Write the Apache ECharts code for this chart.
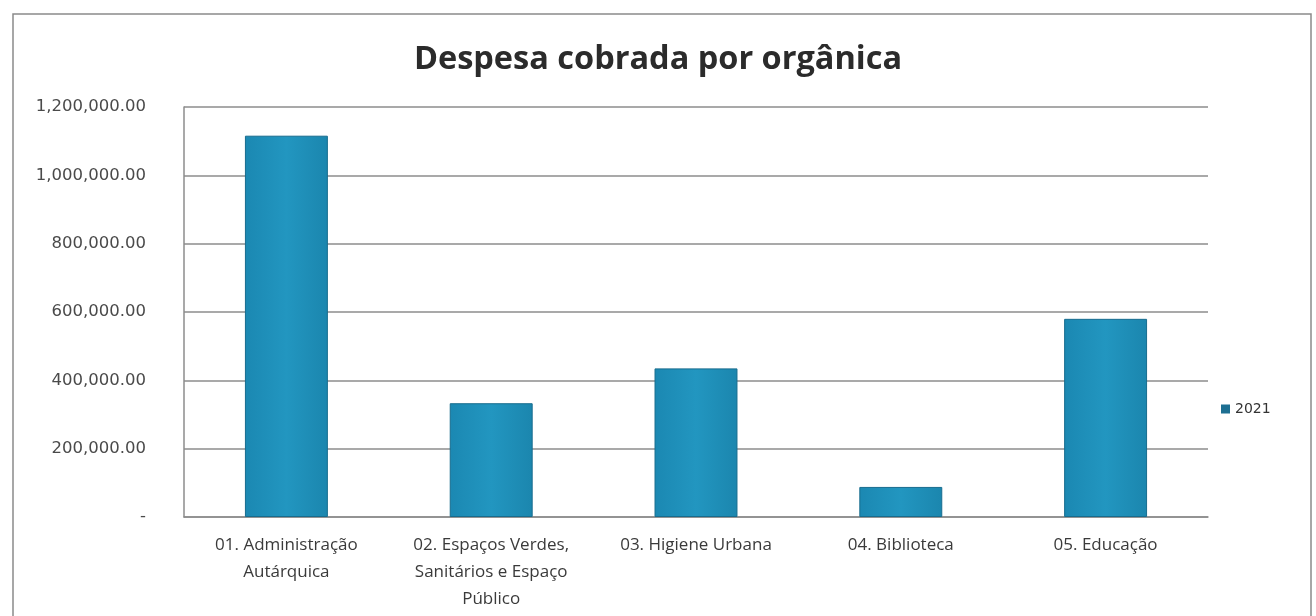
<!DOCTYPE html>
<html>
<head>
<meta charset="utf-8">
<script src="https://cdn.jsdelivr.net/npm/echarts@6/dist/echarts.min.js"></script>
<style>
html,body{margin:0;padding:0;background:#fff;}
#chart{width:1316px;height:616px;}
</style>
</head>
<body>
<div id="chart"></div>
<script>
const titleText = 'Despesa cobrada por orgânica';
const categories = [
  '01. Administração\nAutárquica',
  '02. Espaços Verdes,\nSanitários e Espaço\nPúblico',
  '03. Higiene Urbana',
  '04. Biblioteca',
  '05. Educação'
];
const seriesName = '2021';
const values2021 = [1116000, 333000, 435000, 88000, 580000];
const yMin = 0, yMax = 1200000, yStep = 200000;

const chart = echarts.init(document.getElementById('chart'));
chart.setOption({
  backgroundColor: '#ffffff',
  animation: false,
  graphic: [{
    type: 'rect',
    shape: {x: 13, y: 14, width: 1298, height: 620},
    style: {fill: 'none', stroke: '#8a8a8a', lineWidth: 1.5},
    silent: true
  }],
  title: {
    text: titleText,
    left: 'center',
    top: 38,
    textStyle: {fontFamily: 'Open Sans', fontWeight: 'bold', fontSize: 32.5, color: '#2b2b2b'}
  },
  legend: {
    data: [seriesName],
    orient: 'vertical',
    left: 1216,
    top: 397,
    icon: 'rect',
    itemWidth: 9,
    itemHeight: 9,
    itemGap: 6,
    itemStyle: {color: '#1d6f92', borderWidth: 0},
    textStyle: {fontFamily: 'DejaVu Sans', fontSize: 14, color: '#333'}
  },
  grid: {left: 184, right: 108, top: 107, bottom: 99, containLabel: false},
  xAxis: {
    type: 'category',
    data: categories,
    axisLine: {show: true, lineStyle: {color: '#8c8c8c', width: 1.5}},
    axisTick: {show: false},
    axisLabel: {
      interval: 0,
      margin: 15,
      fontFamily: 'Open Sans',
      fontSize: 17,
      lineHeight: 27,
      color: '#3a3a3a',
      align: 'center'
    }
  },
  yAxis: {
    type: 'value',
    min: yMin,
    max: yMax,
    interval: yStep,
    axisLine: {show: true, lineStyle: {color: '#8c8c8c', width: 1.5}},
    axisTick: {show: false},
    splitLine: {show: true, lineStyle: {color: '#8c8c8c', width: 1.5}},
    axisLabel: {
      margin: 38,
      fontFamily: 'DejaVu Sans',
      fontSize: 16.5,
      color: '#4a4a4a',
      formatter: function (v) {
        if (v === 0) return '-';
        return v.toLocaleString('en-US', {minimumFractionDigits: 2, maximumFractionDigits: 2});
      }
    }
  },
  series: [{
    name: seriesName,
    type: 'bar',
    data: values2021,
    barWidth: '40.5%',
    itemStyle: {
      color: new echarts.graphic.LinearGradient(0, 0, 1, 0, [
        {offset: 0, color: '#1b88b2'},
        {offset: 0.5, color: '#2296c0'},
        {offset: 1, color: '#1b86ae'}
      ]),
      borderColor: '#176c8e',
      borderWidth: 1
    }
  }]
});
</script>
</body>
</html>
